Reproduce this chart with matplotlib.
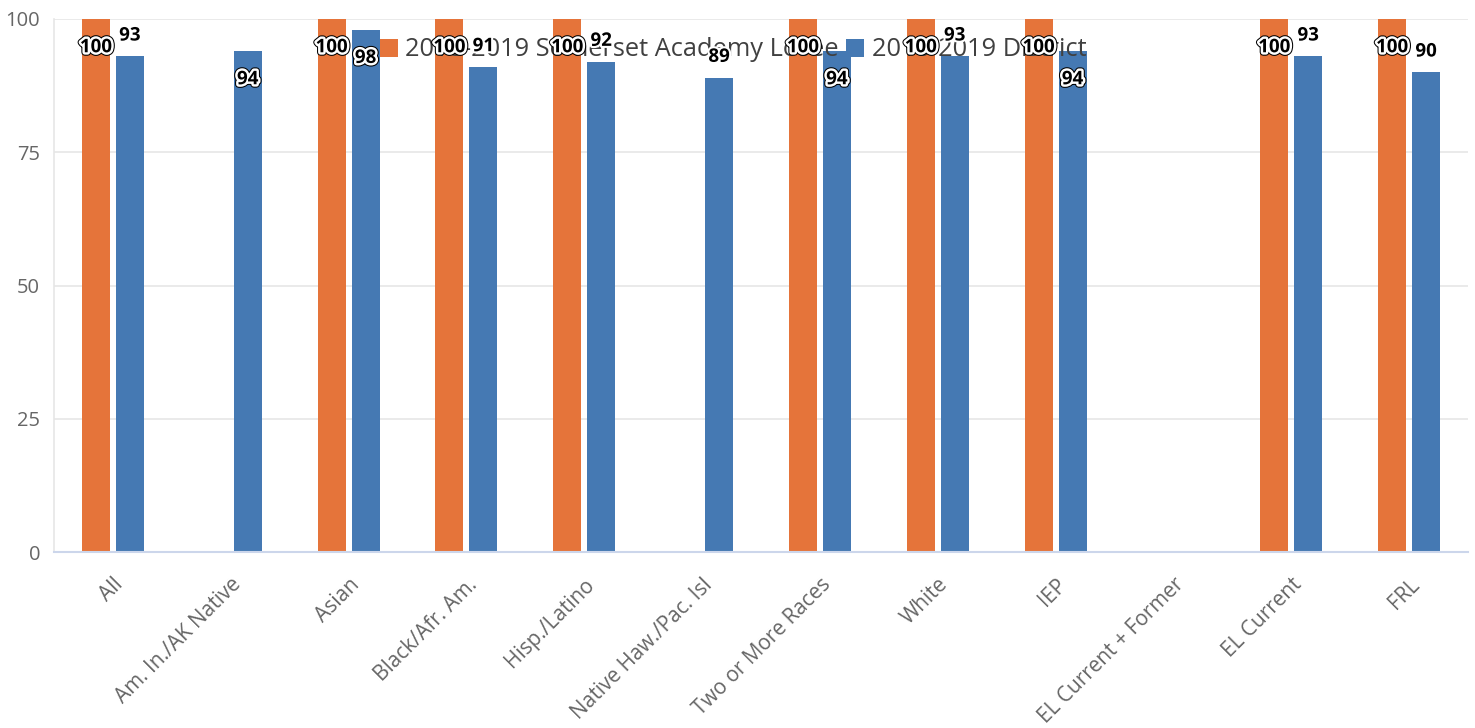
import matplotlib.pyplot as plt
import matplotlib.patheffects as pe
from matplotlib.patches import Patch
import numpy as np

plt.rcParams['font.family'] = ['Open Sans', 'DejaVu Sans']

groups = ['All', 'Am. In./AK Native', 'Asian', 'Black/Afr. Am.', 'Hisp./Latino',
          'Native Haw./Pac. Isl', 'Two or More Races', 'White', 'IEP',
          'EL Current + Former', 'EL Current', 'FRL']
school = [100, None, 100, 100, 100, None, 100, 100, 100, None, 100, 100]
district = [93, 94, 98, 91, 92, 89, 94, 93, 94, None, 93, 90]

series_names = ['2018-2019 Somerset Academy Losee', '2018-2019 District']
colors = ['#E5743A', '#4579B3']

fig = plt.figure(figsize=(14.75, 7.28), dpi=100)
ax = fig.add_axes([54 / 1475, 176 / 728, 1414 / 1475, 533 / 728])

x = np.arange(len(groups))
w = 0.238
off = 0.1443

for vals, dx, col in [(school, -off, colors[0]), (district, off, colors[1])]:
    v = np.array([np.nan if a is None else a for a in vals], dtype=float)
    ax.bar(x + dx, v, width=w, color=col, zorder=2)
    for xi, val in zip(x, vals):
        if val is None:
            continue
        if val >= 94:
            # label doesn't fit above, push it inside the bar
            y = val - 5.3
            fx = [pe.Stroke(linewidth=5, foreground='black'),
                  pe.Stroke(linewidth=3.5, foreground='white'), pe.Normal()]
        else:
            y = val + 3.9
            fx = [pe.Stroke(linewidth=3, foreground='white'), pe.Normal()]
        t = ax.text(xi + dx, y, str(val), ha='center', va='center',
                    fontsize=13.5, fontweight='bold', color='black', zorder=6)
        t.set_path_effects(fx)

ax.set_xlim(-0.5, len(groups) - 0.5)
ax.set_ylim(0, 100)
ax.set_yticks([0, 25, 50, 75, 100])
ax.yaxis.grid(True, color='#e6e6e6', linewidth=1.2, zorder=0)
ax.set_axisbelow(True)

for s in ['top', 'right']:
    ax.spines[s].set_visible(False)
ax.spines['left'].set_color('#e6e6e6')
ax.spines['left'].set_linewidth(1.2)
ax.spines['bottom'].set_color('#ccd6eb')
ax.spines['bottom'].set_linewidth(1.5)

ax.tick_params(axis='y', length=0, pad=10, labelsize=14.5, labelcolor='#666666')
ax.tick_params(axis='x', length=0, pad=16, labelsize=15, labelcolor='#666666')
ax.set_xticks(x)
ax.set_xticklabels(groups, rotation=45, ha='right', rotation_mode='anchor')

handles = [Patch(facecolor=c, edgecolor='none') for c in colors]
leg = ax.legend(handles, series_names, loc='center', ncol=2, frameon=False,
                bbox_to_anchor=(0.497, 1 - 50 / 728), bbox_transform=fig.transFigure,
                fontsize=18.3, handlelength=0.7, handleheight=0.7,
                handletextpad=0.3, columnspacing=0.3, labelcolor='#404040')
leg.set_zorder(5)

fig.savefig('out.png', dpi=100)
